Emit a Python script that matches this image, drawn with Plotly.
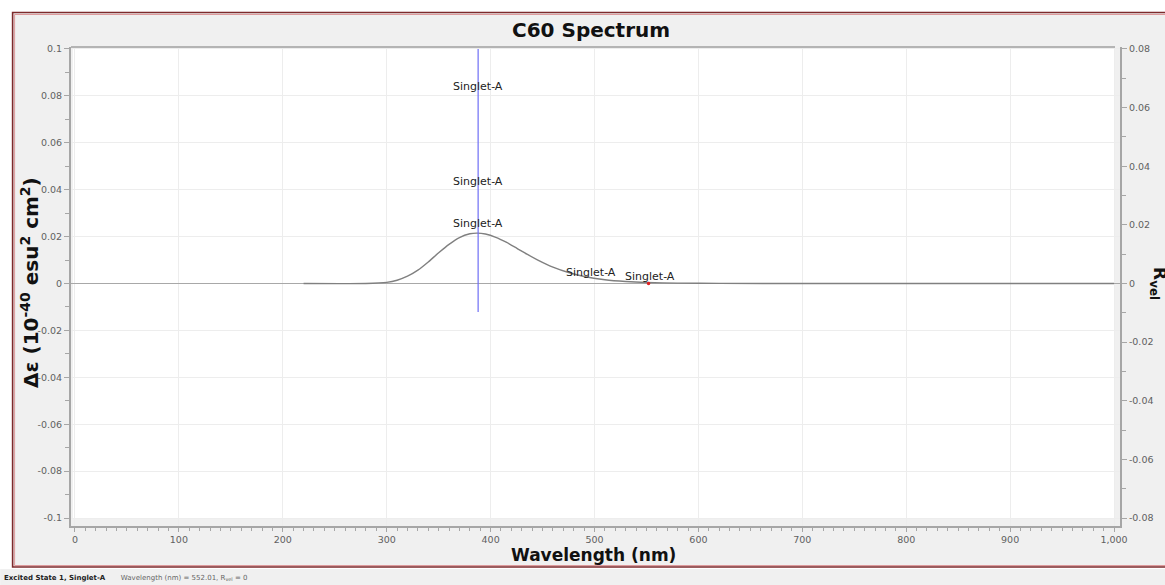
import plotly.graph_objects as go

# ---------------- data ----------------
wavelength = [220, 280, 300, 310, 320, 330, 340, 350, 360, 370, 380, 387, 395, 405,
              415, 425, 435, 445, 460, 475, 490, 510, 530, 550, 580, 620, 700, 850, 1000]
delta_eps = [0.0, 0.00003, 0.0005, 0.0014, 0.0031, 0.0057, 0.0092, 0.0131, 0.0167,
             0.0196, 0.0212, 0.0215, 0.0211, 0.0197, 0.0176, 0.0151, 0.0125, 0.0101,
             0.0070, 0.0047, 0.0030, 0.0016, 0.00085, 0.00043, 0.00016, 0.00004, 0.0, 0.0, 0.0]

stick_x = [388, 388]
stick_y = [-0.0122, 0.1]

selected_x = [552.01]
selected_y = [0.0]

label_text = ["Singlet-A", "Singlet-A", "Singlet-A", "Singlet-A", "Singlet-A"]
label_x = [388, 388, 388, 497, 553]
label_y = [0.0838, 0.0433, 0.0254, 0.0045, 0.0032]

x_tickvals = [0, 100, 200, 300, 400, 500, 600, 700, 800, 900, 1000]
x_ticktext = ["0", "100", "200", "300", "400", "500", "600", "700", "800", "900", "1,000"]
y_tickvals = [0.1, 0.08, 0.06, 0.04, 0.02, 0, -0.02, -0.04, -0.06, -0.08, -0.1]
y_ticktext = ["0.1", "0.08", "0.06", "0.04", "0.02", "0", "-0.02", "-0.04", "-0.06", "-0.08", "-0.1"]
y2_tickvals = [0.08, 0.06, 0.04, 0.02, 0, -0.02, -0.04, -0.06, -0.08]
y2_ticktext = ["0.08", "0.06", "0.04", "0.02", "0", "-0.02", "-0.04", "-0.06", "-0.08"]

# ---------------- layout geometry ----------------
W, H = 1165, 585
ML, MR, MT, MB = 71, 43, 47, 59
PW = W - ML - MR
PH = H - MT - MB


def px(x):
    return (x - ML) / PW


def py(y):
    return (H - MB - y) / PH


FONT = "DejaVu Sans"
TICKC = "#606060"
AXC = "#a6a6a6"

fig = go.Figure()

fig.add_trace(go.Scatter(
    x=wavelength, y=delta_eps, mode="lines",
    line=dict(color="#808080", width=1.4, shape="spline", smoothing=0.6),
    hoverinfo="skip", showlegend=False))

fig.add_trace(go.Scatter(
    x=stick_x, y=stick_y, mode="lines",
    line=dict(color="#6f6ff5", width=1.2),
    hoverinfo="skip", showlegend=False))

fig.add_trace(go.Scatter(
    x=selected_x, y=selected_y, mode="markers",
    marker=dict(color="#e02020", size=3.5),
    hoverinfo="skip", showlegend=False))

# invisible trace to activate y2
fig.add_trace(go.Scatter(
    x=[0], y=[0], yaxis="y2", mode="markers", marker=dict(opacity=0),
    hoverinfo="skip", showlegend=False))

for t, lx, ly in zip(label_text, label_x, label_y):
    fig.add_annotation(x=lx, y=ly, xref="x", yref="y", text=t, showarrow=False,
                       font=dict(family=FONT, size=11, color="#222222"),
                       xanchor="center", yanchor="middle")

shapes = [
    # gray panel inside border
    dict(type="rect", xref="paper", yref="paper", layer="below",
         x0=px(12), x1=px(1170), y0=py(567), y1=py(12),
         fillcolor="#f0f0f0", line=dict(width=0)),
    # bottom status strip
    dict(type="rect", xref="paper", yref="paper", layer="below",
         x0=px(0), x1=px(1170), y0=py(586), y1=py(569),
         fillcolor="#f0f0f0", line=dict(width=0)),
    # white plot area
    dict(type="rect", xref="paper", yref="paper", layer="below",
         x0=px(73), x1=px(1117), y0=py(519), y1=py(47),
         fillcolor="#ffffff", line=dict(width=0)),
    # border: dark red outer + pink inner
    dict(type="rect", xref="paper", yref="paper", layer="above",
         x0=px(12.5), x1=px(1175), y0=py(567), y1=py(12.5),
         line=dict(color="#7d2a2c", width=1.6)),
    dict(type="rect", xref="paper", yref="paper", layer="above",
         x0=px(14.5), x1=px(1175), y0=py(565.5), y1=py(14.5),
         line=dict(color="#dd9a9c", width=1)),
    # top frame line
    dict(type="line", xref="paper", yref="paper", layer="above",
         x0=px(71), x1=px(1117), y0=py(47), y1=py(47),
         line=dict(color="#b4b4b4", width=2)),
]
fig.update_layout(shapes=shapes)

fig.add_annotation(xref="paper", yref="paper", x=px(592), y=py(30), text="<b>C60 Spectrum</b>",
                   showarrow=False, font=dict(family=FONT, size=20, color="#111111"),
                   xanchor="center", yanchor="middle")
fig.add_annotation(xref="paper", yref="paper", x=px(594), y=py(555), text="<b>Wavelength (nm)</b>",
                   showarrow=False, font=dict(family=FONT, size=17, color="#111111"),
                   xanchor="center", yanchor="middle")
fig.add_annotation(xref="paper", yref="paper", x=px(30), y=py(283),
                   text="<b>Δε (10<sup>-40</sup> esu<sup>2</sup> cm<sup>2</sup>)</b>",
                   showarrow=False, textangle=-90, font=dict(family=FONT, size=20, color="#111111"),
                   xanchor="center", yanchor="middle")
fig.add_annotation(xref="paper", yref="paper", x=px(1161), y=py(284),
                   text="<b>R<sub>vel</sub></b>",
                   showarrow=False, textangle=90, font=dict(family=FONT, size=17, color="#111111"),
                   xanchor="center", yanchor="middle")
fig.add_annotation(xref="paper", yref="paper", x=px(2), y=py(578),
                   text="<b>Excited State 1, Singlet-A</b>\u00a0\u00a0\u00a0\u00a0\u00a0\u00a0\u00a0<span style='color:#666666'>Wavelength (nm) = 552.01, R<sub>vel</sub> = 0</span>",
                   showarrow=False, font=dict(family=FONT, size=7, color="#222222"),
                   xanchor="left", yanchor="middle")

fig.update_layout(
    width=W, height=H,
    margin=dict(l=ML, r=MR, t=MT, b=MB, pad=0),
    paper_bgcolor="#ffffff",
    plot_bgcolor="rgba(0,0,0,0)",
    showlegend=False,
    xaxis=dict(
        range=[-3.84, 1005.76], tickmode="array", tickvals=x_tickvals, ticktext=x_ticktext,
        showline=True, linecolor=AXC, linewidth=2,
        ticks="outside", ticklen=4, tickcolor=AXC, tickwidth=1,
        minor=dict(dtick=10, tick0=0, ticks="outside", ticklen=2.5, tickcolor=AXC, showgrid=False),
        showgrid=True, gridcolor="#ededed", gridwidth=1, zeroline=False,
        tickfont=dict(family=FONT, size=9.5, color=TICKC),
    ),
    yaxis=dict(
        range=[-0.1034, 0.10085], tickmode="array", tickvals=y_tickvals, ticktext=y_ticktext,
        showline=True, linecolor=AXC, linewidth=2,
        ticks="outside", ticklen=5, tickcolor=AXC, tickwidth=1,
        minor=dict(dtick=0.01, tick0=0, ticks="outside", ticklen=4, tickcolor=AXC, showgrid=False),
        showgrid=True, gridcolor="#ededed", gridwidth=1,
        zeroline=True, zerolinecolor="#a8a8a8", zerolinewidth=1,
        tickfont=dict(family=FONT, size=9.5, color=TICKC),
    ),
    yaxis2=dict(
        overlaying="y", side="right", anchor="x",
        range=[-0.08272, 0.08068], tickmode="array", tickvals=y2_tickvals, ticktext=y2_ticktext,
        showline=True, linecolor=AXC, linewidth=2,
        ticks="outside", ticklen=5, tickcolor=AXC, tickwidth=1,
        minor=dict(dtick=0.01, tick0=0, ticks="outside", ticklen=4, tickcolor=AXC, showgrid=False),
        showgrid=False, zeroline=False,
        tickfont=dict(family=FONT, size=9.5, color=TICKC),
    ),
)

fig.write_html("out.html", config={"displayModeBar": False},
               post_script="document.body.style.margin='0px';document.body.style.overflow='hidden';")
